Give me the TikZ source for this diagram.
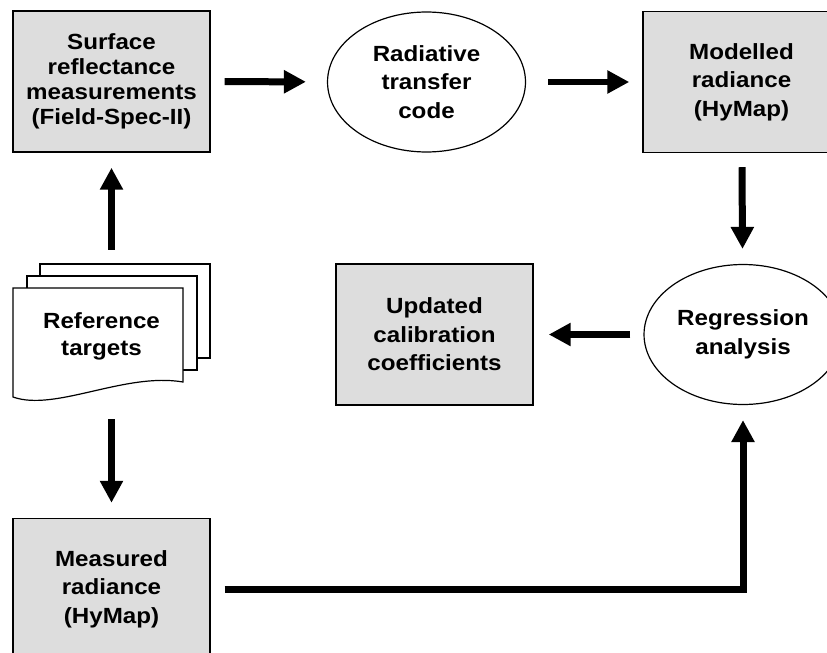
\documentclass[tikz,border=0pt]{standalone}
\usepackage{fontspec}
\setmainfont{Liberation Sans}[FakeStretch=1.1]
\usepackage{tikz}
\usetikzlibrary{shapes.geometric}
\usetikzlibrary{arrows.meta}

\definecolor{boxgray}{RGB}{221,221,221}
\setlength{\lineskiplimit}{-20pt}

\tikzset{
   txt/.style={
      font=\fontsize{12.5}{16.2}\selectfont\bfseries,
      align=center,
      inner sep=0pt
   },
   tight/.style={
      font=\fontsize{12.5}{14.2}\selectfont\bfseries
   },
   stepbox/.style={
      txt,
      draw,
      fill=boxgray,
      line width=.03cm,
      minimum width=3.94cm,
      minimum height=2.82cm
   },
   process/.style={
      txt,
      draw,
      ellipse,
      fill=white,
      line width=.024cm,
      minimum width=3.96cm,
      minimum height=2.8cm
   },
   page/.style={draw, fill=white, line width=.024cm},
   flow/.style={
      line width=.14cm,
      -{Triangle[length=.44cm, width=.44cm]},
      shorten <=.28cm,
      shorten >=.3cm
   }
}

\begin{document}
\begin{tikzpicture}[x=.02cm, y=-.02cm]
   \useasboundingbox (0,0) rectangle (827,652);
   \clip (0,0) rectangle (827,652);

   % top row
   \node[name=srf, stepbox, tight] at (111.5,81.5) {Surface\\reflectance\\measurements\\(Field-Spec-II)};
   \node[name=rtc, process] at (426.5,82) {Radiative\\transfer\\code};
   \node[name=mod, stepbox] at (741.5,82) {Modelled\\radiance\\(HyMap)};

   % middle row
   \node[name=ref, minimum width=3.94cm, minimum height=2.82cm, inner sep=0pt] at (111.5,334.5) {};
   \foreach \x/\y in {40/264, 27/276}
      \draw[page] (\x,\y) rectangle ++(170,94);
   \draw[page] (13,397) -- (13,288) -- (183,288) -- (183,382)
      .. controls (125,372) and (55,412) .. cycle;
   \node[name=reftxt, txt, font=\fontsize{12.5}{15.3}\selectfont\bfseries] at (101.5,336) {Reference\\targets};

   \node[name=upd, stepbox] at (434.5,334.5) {Updated\\calibration\\coefficients};
   \node[name=reg, process] at (743,334.5) {Regression\\analysis};

   % bottom row
   \node[name=mea, stepbox] at (111.5,589) {Measured\\radiance\\(HyMap)};

   \draw[flow, shorten >=.42cm] (srf) -- (rtc);
   \draw[flow, shorten <=.44cm, shorten >=.26cm] (rtc) -- (mod);
   \draw[flow] (mod) -- (reg);
   \draw[flow, shorten <=.26cm] (reg) -- (upd);
   \draw[flow] (ref) -- (srf);
   \draw[flow] (ref) -- (mea);
   \draw[flow] (mea) -| (reg);

\end{tikzpicture}
\end{document}
